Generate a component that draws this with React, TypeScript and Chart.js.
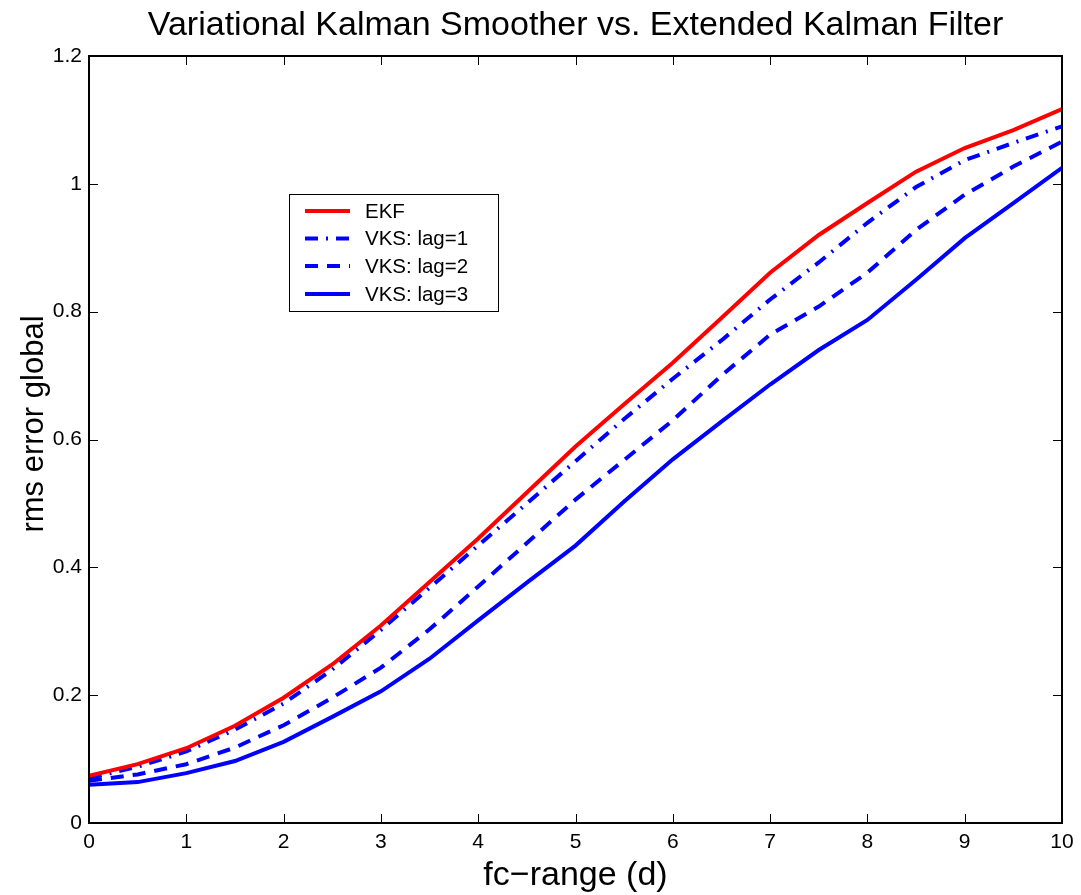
import React, { useEffect, useRef } from "react";
import { Chart, registerables } from "chart.js";

Chart.register(...registerables);

const xValues = [0, 0.5, 1, 1.5, 2, 2.5, 3, 3.5, 4, 4.5, 5, 5.5, 6, 6.5, 7, 7.5, 8, 8.5, 9, 9.5, 10];
const ekf = [0.074, 0.092, 0.117, 0.152, 0.196, 0.248, 0.309, 0.377, 0.445, 0.517, 0.589, 0.655, 0.72, 0.79, 0.861, 0.92, 0.97, 1.019, 1.056, 1.084, 1.117];
const vksLag1 = [0.07, 0.088, 0.112, 0.146, 0.187, 0.24, 0.302, 0.368, 0.434, 0.5, 0.566, 0.632, 0.695, 0.755, 0.819, 0.877, 0.939, 0.995, 1.037, 1.064, 1.09];
const vksLag2 = [0.066, 0.076, 0.092, 0.118, 0.153, 0.196, 0.243, 0.303, 0.37, 0.438, 0.506, 0.568, 0.63, 0.7, 0.764, 0.808, 0.861, 0.928, 0.983, 1.027, 1.066];
const vksLag3 = [0.06, 0.064, 0.078, 0.097, 0.127, 0.166, 0.206, 0.257, 0.317, 0.376, 0.434, 0.503, 0.569, 0.628, 0.686, 0.74, 0.787, 0.85, 0.915, 0.97, 1.025];

const seriesLabels = ["EKF", "VKS: lag=1", "VKS: lag=2", "VKS: lag=3"];
const xTickValues = [0, 1, 2, 3, 4, 5, 6, 7, 8, 9, 10];
const xTickLabels = ["0", "1", "2", "3", "4", "5", "6", "7", "8", "9", "10"];
const yTickValues = [0, 0.2, 0.4, 0.6, 0.8, 1, 1.2];
const yTickLabels = ["0", "0.2", "0.4", "0.6", "0.8", "1", "1.2"];

const titleText = "Variational Kalman Smoother vs. Extended Kalman Filter";
const xTitle = "fc\u2212range (d)";
const yTitle = "rms error global";

const FONT = '"Liberation Sans", Arial, Helvetica, sans-serif';
const RED = "#ff0000";
const BLUE = "#0000ff";

const styles = [
  { color: RED, dash: [] as number[] },
  { color: BLUE, dash: [13, 8, 2, 8] },
  { color: BLUE, dash: [13, 9] },
  { color: BLUE, dash: [] as number[] },
];

const framePlugin = {
  id: "matlabFrame",
  afterDraw(chart: any) {
    const { ctx, chartArea: a, scales } = chart;
    ctx.save();
    ctx.strokeStyle = "#000";
    ctx.lineWidth = 1;
    ctx.setLineDash([]);
    ctx.beginPath();
    xTickValues.forEach((v) => {
      const px = Math.round(scales.x.getPixelForValue(v)) + 0.5;
      ctx.moveTo(px, a.bottom);
      ctx.lineTo(px, a.bottom - 9);
      ctx.moveTo(px, a.top);
      ctx.lineTo(px, a.top + 9);
    });
    yTickValues.forEach((v) => {
      const py = Math.round(scales.y.getPixelForValue(v)) + 0.5;
      ctx.moveTo(a.left, py);
      ctx.lineTo(a.left + 9, py);
      ctx.moveTo(a.right, py);
      ctx.lineTo(a.right - 9, py);
    });
    ctx.stroke();
    ctx.lineWidth = 2;
    ctx.strokeRect(a.left, a.top, a.right - a.left, a.bottom - a.top);

    const cx = (a.left + a.right) / 2;
    ctx.fillStyle = "#000";
    ctx.textAlign = "center";
    ctx.textBaseline = "alphabetic";
    ctx.font = `34px ${FONT}`;
    ctx.fillText(titleText, cx, 35);
    ctx.fillText(xTitle, cx, 885);
    ctx.save();
    ctx.font = `31px ${FONT}`;
    ctx.translate(43, 424);
    ctx.rotate(-Math.PI / 2);
    ctx.fillText(yTitle, 0, 0);
    ctx.restore();

    const lx = 289.5, ly = 194.5, lw = 209, lh = 117;
    ctx.fillStyle = "#fff";
    ctx.fillRect(lx, ly, lw, lh);
    ctx.lineWidth = 1;
    ctx.strokeStyle = "#000";
    ctx.strokeRect(lx, ly, lw, lh);
    const rows = [211, 238.5, 266, 294];
    ctx.font = `20.5px ${FONT}`;
    ctx.textAlign = "left";
    ctx.textBaseline = "middle";
    seriesLabels.forEach((lab, i) => {
      const st = styles[i];
      ctx.strokeStyle = st.color;
      ctx.lineWidth = 4;
      ctx.lineCap = "butt";
      ctx.setLineDash(st.dash);
      ctx.beginPath();
      ctx.moveTo(305, rows[i]);
      ctx.lineTo(350, rows[i]);
      ctx.stroke();
      ctx.setLineDash([]);
      ctx.fillStyle = "#000";
      ctx.fillText(lab, 365, rows[i] + 1);
    });
    ctx.restore();
  },
};

export default function App() {
  const ref = useRef<HTMLCanvasElement | null>(null);
  useEffect(() => {
    if (!ref.current) return;
    const seriesData = [ekf, vksLag1, vksLag2, vksLag3];
    const chart = new Chart(ref.current, {
      type: "line",
      data: {
        datasets: seriesData.map((vals, i) => ({
          label: seriesLabels[i],
          data: vals.map((y, j) => ({ x: xValues[j], y })),
          borderColor: styles[i].color,
          backgroundColor: styles[i].color,
          borderWidth: 4,
          borderDash: styles[i].dash,
          borderCapStyle: "butt",
          pointRadius: 0,
          tension: 0,
          fill: false,
        })),
      },
      options: {
        responsive: false,
        animation: false,
        layout: { padding: { left: 0, right: 19, top: 56, bottom: 0 } },
        plugins: {
          legend: { display: false },
          title: { display: false },
          tooltip: { enabled: false },
        },
        scales: {
          x: {
            type: "linear",
            min: 0,
            max: 10,
            grid: { display: false, drawTicks: false },
            border: { display: false },
            afterFit: (s: any) => {
              s.height = 72;
            },
            afterBuildTicks: (s: any) => {
              s.ticks = xTickValues.map((v) => ({ value: v }));
            },
            ticks: {
              color: "#000",
              padding: 7,
              maxRotation: 0,
              autoSkip: false,
              font: { family: FONT, size: 21 },
              callback: (_v: any, i: number) => xTickLabels[i],
            },
          },
          y: {
            type: "linear",
            min: 0,
            max: 1.2,
            grid: { display: false, drawTicks: false },
            border: { display: false },
            afterFit: (s: any) => {
              s.width = 89;
            },
            afterBuildTicks: (s: any) => {
              s.ticks = yTickValues.map((v) => ({ value: v }));
            },
            ticks: {
              color: "#000",
              padding: 7,
              autoSkip: false,
              font: { family: FONT, size: 21 },
              callback: (_v: any, i: number) => yTickLabels[i],
            },
          },
        },
      },
      plugins: [framePlugin],
    } as any);
    return () => chart.destroy();
  }, []);
  return (
    <div style={{ position: "absolute", left: 0, top: 0, width: 1081, height: 895, background: "#fff" }}>
      <canvas ref={ref} width={1081} height={895} style={{ display: "block" }} />
    </div>
  );
}
